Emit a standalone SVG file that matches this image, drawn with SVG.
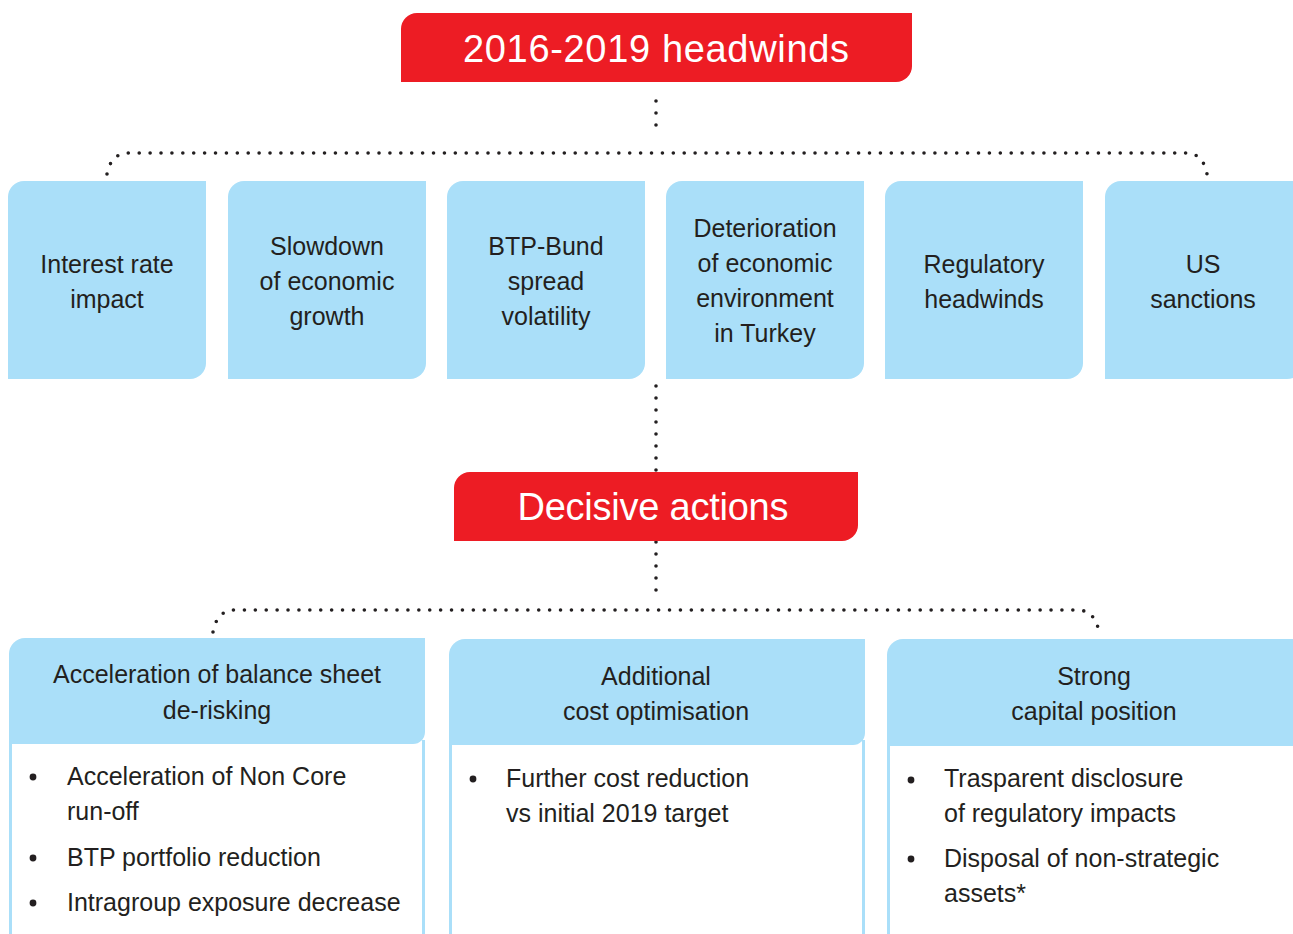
<svg xmlns="http://www.w3.org/2000/svg" width="1293" height="934" viewBox="0 0 1293 934">
<style>
.red{fill:#ed1c24}
.blue{fill:#aadff9}
.frame{fill:none;stroke:#aadff9;stroke-width:3}
.ttl{font-family:"Liberation Sans",Arial,sans-serif;font-size:38px;fill:#ffffff;text-anchor:middle}
.lbl{font-family:"Liberation Sans",Arial,sans-serif;font-size:25px;fill:#231f20;text-anchor:middle}
.itm{font-family:"Liberation Sans",Arial,sans-serif;font-size:25px;fill:#231f20}
.bul{fill:#231f20}
.dots{fill:none;stroke:#231f20;stroke-width:3.6;stroke-linecap:round;stroke-dasharray:0 10.9}
.dotsv{fill:none;stroke:#231f20;stroke-width:3.6;stroke-linecap:round;stroke-dasharray:0 12}
</style>
<rect width="1293" height="934" fill="#ffffff"/>

<g id="connectors">
<path class="dotsv" d="M656,101 V137"/>
<path class="dots" d="M107,174 Q111,153 129,153 L1186,153 Q1203,153 1207,174"/>
<path class="dotsv" d="M656,386 V602"/>
<path class="dots" d="M213,632 Q217,610 235,610 L1077,610 Q1095,610 1099,632"/>
</g>

<g id="headwinds">
<path class="red" d="M401,29 A16,16 0 0 1 417,13 H912 V66 A16,16 0 0 1 896,82 H401 Z"/>
<text class="ttl" x="656" y="62" textLength="386">2016-2019 headwinds</text>
</g>

<g id="interest-rate">
<path class="blue" d="M8,197 A16,16 0 0 1 24,181 H206 V363 A16,16 0 0 1 190,379 H8 Z"/>
<text class="lbl" x="107" y="273">Interest rate</text>
<text class="lbl" x="107" y="308">impact</text>
</g>

<g id="slowdown">
<path class="blue" d="M228,197 A16,16 0 0 1 244,181 H426 V363 A16,16 0 0 1 410,379 H228 Z"/>
<text class="lbl" x="327" y="255">Slowdown</text>
<text class="lbl" x="327" y="290">of economic</text>
<text class="lbl" x="327" y="325">growth</text>
</g>

<g id="btp-bund">
<path class="blue" d="M447,197 A16,16 0 0 1 463,181 H645 V363 A16,16 0 0 1 629,379 H447 Z"/>
<text class="lbl" x="546" y="255">BTP-Bund</text>
<text class="lbl" x="546" y="290">spread</text>
<text class="lbl" x="546" y="325">volatility</text>
</g>

<g id="turkey">
<path class="blue" d="M666,197 A16,16 0 0 1 682,181 H864 V363 A16,16 0 0 1 848,379 H666 Z"/>
<text class="lbl" x="765" y="237">Deterioration</text>
<text class="lbl" x="765" y="272">of economic</text>
<text class="lbl" x="765" y="307">environment</text>
<text class="lbl" x="765" y="342">in Turkey</text>
</g>

<g id="regulatory">
<path class="blue" d="M885,197 A16,16 0 0 1 901,181 H1083 V363 A16,16 0 0 1 1067,379 H885 Z"/>
<text class="lbl" x="984" y="273">Regulatory</text>
<text class="lbl" x="984" y="308">headwinds</text>
</g>

<g id="us-sanctions">
<path class="blue" d="M1105,197 A16,16 0 0 1 1121,181 H1303 V363 A16,16 0 0 1 1287,379 H1105 Z"/>
<text class="lbl" x="1203" y="273">US</text>
<text class="lbl" x="1203" y="308">sanctions</text>
</g>

<g id="decisive-actions">
<path class="red" d="M454,488 A16,16 0 0 1 470,472 H858 V525 A16,16 0 0 1 842,541 H454 Z"/>
<text class="ttl" x="653" y="520" textLength="271">Decisive actions</text>
</g>

<g id="balance-sheet">
<path class="frame" d="M10.5,740 V950 M423.5,740 V950"/>
<path class="blue" d="M9,654 A16,16 0 0 1 25,638 H425 V732 A12,12 0 0 1 413,744 H9 Z"/>
<text class="lbl" x="217" y="683">Acceleration of balance sheet</text>
<text class="lbl" x="217" y="719">de-risking</text>
<circle class="bul" cx="33" cy="777" r="3.4"/>
<text class="itm" x="67" y="785">Acceleration of Non Core</text>
<text class="itm" x="67" y="820">run-off</text>
<circle class="bul" cx="33" cy="858" r="3.4"/>
<text class="itm" x="67" y="866">BTP portfolio reduction</text>
<circle class="bul" cx="33" cy="903" r="3.4"/>
<text class="itm" x="67" y="911">Intragroup exposure decrease</text>
</g>

<g id="cost-optimisation">
<path class="frame" d="M450.5,740 V950 M863.5,740 V950"/>
<path class="blue" d="M449,655 A16,16 0 0 1 465,639 H865 V733 A12,12 0 0 1 853,745 H449 Z"/>
<text class="lbl" x="656" y="685">Additional</text>
<text class="lbl" x="656" y="720">cost optimisation</text>
<circle class="bul" cx="473" cy="779" r="3.4"/>
<text class="itm" x="506" y="787">Further cost reduction</text>
<text class="itm" x="506" y="822">vs initial 2019 target</text>
</g>

<g id="capital-position">
<path class="frame" d="M888.5,740 V950"/>
<path class="blue" d="M887,655 A16,16 0 0 1 903,639 H1300 V746 H887 Z"/>
<text class="lbl" x="1094" y="685">Strong</text>
<text class="lbl" x="1094" y="720">capital position</text>
<circle class="bul" cx="911" cy="780" r="3.4"/>
<text class="itm" x="944" y="787">Trasparent disclosure</text>
<text class="itm" x="944" y="822">of regulatory impacts</text>
<circle class="bul" cx="911" cy="859" r="3.4"/>
<text class="itm" x="944" y="867">Disposal of non-strategic</text>
<text class="itm" x="944" y="902">assets*</text>
</g>
</svg>
